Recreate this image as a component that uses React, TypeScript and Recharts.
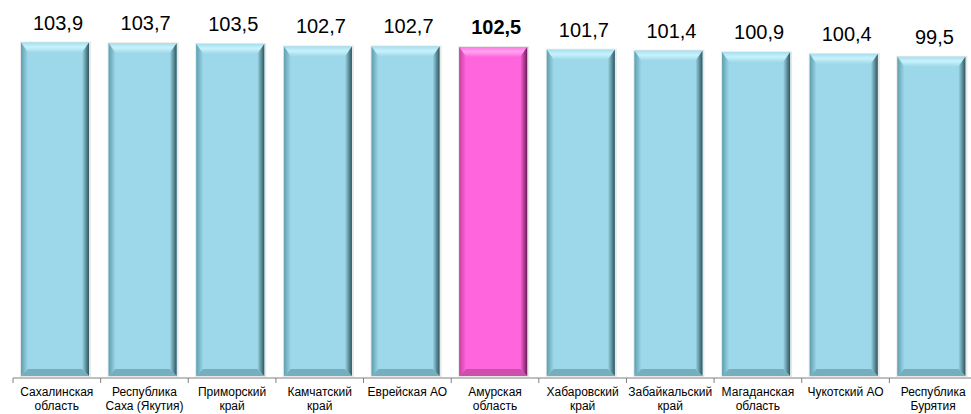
import { BarChart, Bar, XAxis, YAxis, LabelList, Cell } from "recharts";

// Regions and index values
const REGIONS: string[][] = [
  ["Сахалинская", "область"],
  ["Республика", "Саха (Якутия)"],
  ["Приморский", "край"],
  ["Камчатский", "край"],
  ["Еврейская АО"],
  ["Амурская", "область"],
  ["Хабаровский", "край"],
  ["Забайкальский", "край"],
  ["Магаданская", "область"],
  ["Чукотский АО"],
  ["Республика", "Бурятия"],
];
const VALUES = [103.9, 103.7, 103.5, 102.7, 102.7, 102.5, 101.7, 101.4, 100.9, 100.4, 99.5];
const HIGHLIGHT = 5; // Амурская область

const FONT = "'Liberation Sans', Arial, sans-serif";

const data = REGIONS.map((lines, i) => ({
  name: lines.join(" "),
  lines,
  value: VALUES[i],
}));

const BLUE = { main: "#9dd8ea", top1: "#c8f2fb", top2: "#a6e0ee", side: "#5f9fae", dark: "#2c565e", bottom: "#6ea7b4" };
const PINK = { main: "#ff66dd", top1: "#ffa6f0", top2: "#ff78e2", side: "#c9409f", dark: "#6b1c58", bottom: "#c64aa6" };

function BevelBar(props: any) {
  const { x, y, width, height, index } = props;
  if (!height || height <= 0) return null;
  const c = index === HIGHLIGHT ? PINK : BLUE;
  const id = index === HIGHLIGHT ? "p" : "b";
  const bx = x - 2;
  const w = width;
  const t = 10; // top bevel
  const s = 7; // side bevel
  const h = height - 2;
  return (
    <g>
      <rect x={bx - 1} y={y - 1} width={w + 3} height={h + 2} fill="#d9d9d9" opacity={0.6} />
      <rect x={bx} y={y} width={w} height={h} fill={c.main} />
      <polygon
        points={`${bx},${y} ${bx + w},${y} ${bx + w - s},${y + t} ${bx + s},${y + t}`}
        fill={`url(#top-${id})`}
      />
      <polygon
        points={`${bx},${y} ${bx + s},${y + t} ${bx + s},${y + h - s} ${bx},${y + h}`}
        fill={`url(#left-${id})`}
      />
      <polygon
        points={`${bx + w},${y} ${bx + w - s},${y + t} ${bx + w - s},${y + h - s} ${bx + w},${y + h}`}
        fill={`url(#right-${id})`}
      />
      <polygon
        points={`${bx},${y + h} ${bx + s},${y + h - s} ${bx + w - s},${y + h - s} ${bx + w},${y + h}`}
        fill={c.bottom}
        opacity={0.85}
      />
    </g>
  );
}

function ValueLabel(props: any) {
  const { x, y, width, index, value } = props;
  const bold = index === HIGHLIGHT;
  return (
    <text
      x={x + width / 2 + 1}
      y={y - 13}
      textAnchor="middle"
      fontFamily={FONT}
      fontSize={20}
      fontWeight={bold ? "bold" : "normal"}
      fill="#000"
    >
      {String(value).replace(".", ",")}
    </text>
  );
}

function RegionTick(props: any) {
  const { x, y, payload, index } = props;
  const half = payload.offset ?? 43.8;
  const lines = REGIONS[index] || [payload.value];
  return (
    <g>
      <line x1={x - half} y1={y} x2={x - half} y2={y + 5} stroke="#808080" />
      {lines.map((l: string, i: number) => (
        <text
          key={i}
          x={x}
          y={y + 18 + i * 14}
          textAnchor="middle"
          fontFamily={FONT}
          fontSize={12}
          fill="#000"
        >
          {l}
        </text>
      ))}
    </g>
  );
}

function Defs() {
  return (
    <defs>
      {[
        ["b", BLUE],
        ["p", PINK],
      ].map(([id, c]: any) => (
        <g key={id}>
          <linearGradient id={`top-${id}`} x1="0" y1="0" x2="0" y2="1">
            <stop offset="0%" stopColor={c.top2} />
            <stop offset="45%" stopColor={c.top1} />
            <stop offset="100%" stopColor={c.main} />
          </linearGradient>
          <linearGradient id={`left-${id}`} x1="0" y1="0" x2="1" y2="0">
            <stop offset="0%" stopColor={c.side} />
            <stop offset="100%" stopColor={c.main} />
          </linearGradient>
          <linearGradient id={`right-${id}`} x1="0" y1="0" x2="1" y2="0">
            <stop offset="0%" stopColor={c.main} />
            <stop offset="100%" stopColor={c.dark} />
          </linearGradient>
        </g>
      ))}
    </defs>
  );
}

export default function App() {
  return (
    <div style={{ position: "absolute", left: 0, top: 0, width: 971, height: 414, overflow: "hidden", background: "#fff" }}>
      <BarChart
        width={980}
        height={414}
        data={data}
        margin={{ top: 10, right: 3, bottom: 0, left: 13 }}
      >
        <Defs />
        <XAxis
          dataKey="name"
          interval={0}
          tickLine={false}
          tickSize={0}
          tickMargin={0}
          axisLine={{ stroke: "#808080" }}
          tick={<RegionTick />}
          height={36}
        />
        <YAxis hide domain={[0, 114]} />
        <Bar dataKey="value" barSize={68} shape={<BevelBar />} isAnimationActive={false}>
          {data.map((_, i) => (
            <Cell key={i} />
          ))}
          <LabelList dataKey="value" content={<ValueLabel />} />
        </Bar>
      </BarChart>
    </div>
  );
}
